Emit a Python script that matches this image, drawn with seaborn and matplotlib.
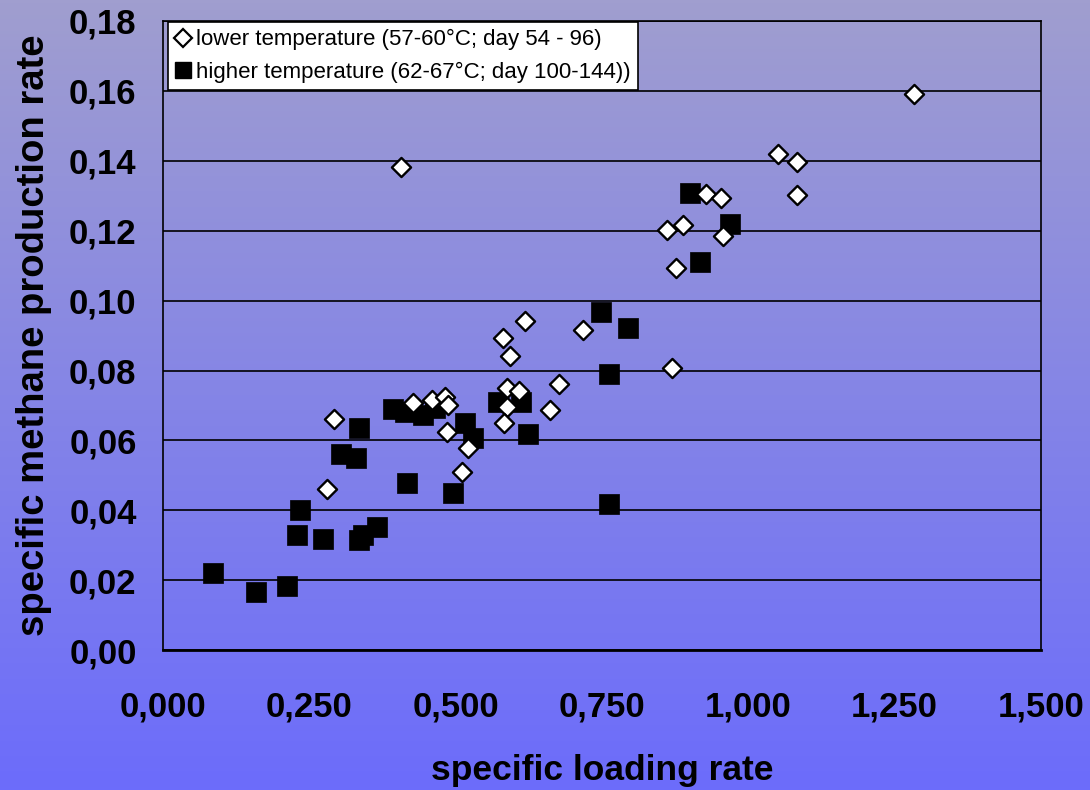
import numpy as np
import pandas as pd
import matplotlib
matplotlib.use("Agg")
import matplotlib.pyplot as plt
from matplotlib.colors import LinearSegmentedColormap
from matplotlib.lines import Line2D
import seaborn as sns

# lower temperature (57-60°C; day 54 - 96)
low_x = [0.280, 0.292, 0.407, 0.427, 0.460, 0.482, 0.487, 0.485, 0.521, 0.511,
         0.581, 0.593, 0.618, 0.718, 0.588, 0.608, 0.588, 0.583, 0.677, 0.661,
         0.870, 0.876, 0.861, 0.888, 0.928, 0.953, 0.957, 1.051, 1.083, 1.083,
         1.283]
low_y = [0.0461, 0.0661, 0.1382, 0.0707, 0.0716, 0.0724, 0.0701, 0.0624, 0.0578, 0.0509,
         0.0893, 0.0841, 0.0942, 0.0916, 0.0750, 0.0741, 0.0695, 0.0650, 0.0761, 0.0687,
         0.0807, 0.1093, 0.1202, 0.1216, 0.1305, 0.1294, 0.1185, 0.1420, 0.1397, 0.1302,
         0.1591]

# higher temperature (62-67°C; day 100-144))
high_x = [0.085, 0.159, 0.212, 0.234, 0.229, 0.273, 0.335, 0.342, 0.366, 0.304,
          0.330, 0.335, 0.393, 0.413, 0.444, 0.465, 0.417, 0.495, 0.516, 0.530,
          0.572, 0.612, 0.624, 0.748, 0.794, 0.762, 0.762, 0.900, 0.917, 0.969]
high_y = [0.0220, 0.0166, 0.0183, 0.0401, 0.0329, 0.0318, 0.0315, 0.0329, 0.0352, 0.0561,
          0.0550, 0.0635, 0.0690, 0.0681, 0.0673, 0.0693, 0.0478, 0.0449, 0.0650, 0.0607,
          0.0710, 0.0710, 0.0618, 0.0967, 0.0922, 0.0790, 0.0418, 0.1308, 0.1110, 0.1219]

low_label = "lower temperature (57-60°C; day 54 - 96)"
high_label = "higher temperature (62-67°C; day 100-144))"

xticks = [0.0, 0.25, 0.5, 0.75, 1.0, 1.25, 1.5]
xtick_labels = ["0,000", "0,250", "0,500", "0,750", "1,000", "1,250", "1,500"]
yticks = [0.0, 0.02, 0.04, 0.06, 0.08, 0.10, 0.12, 0.14, 0.16, 0.18]
ytick_labels = ["0,00", "0,02", "0,04", "0,06", "0,08", "0,10", "0,12", "0,14", "0,16", "0,18"]

df_low = pd.DataFrame({"x": low_x, "y": low_y})
df_high = pd.DataFrame({"x": high_x, "y": high_y})

sns.set_theme(style="white")
plt.rcParams["font.family"] = ["Liberation Sans", "DejaVu Sans"]
plt.rcParams["text.color"] = "black"
plt.rcParams["axes.labelcolor"] = "black"
plt.rcParams["xtick.color"] = "black"
plt.rcParams["ytick.color"] = "black"

fig = plt.figure(figsize=(10.9, 7.9), dpi=100)

# gradient background
bg = fig.add_axes([0, 0, 1, 1], zorder=0)
cmap = LinearSegmentedColormap.from_list("bg", ["#a09ecf", "#8585e6", "#6c6cfb"])
bg.imshow(np.linspace(0, 1, 256).reshape(-1, 1), aspect="auto", cmap=cmap,
          extent=[0, 1, 0, 1])
bg.set_axis_off()

ax = fig.add_axes([0.1495, 0.177, 0.8055, 0.7965], zorder=1)
ax.set_facecolor("none")

sns.scatterplot(data=df_high, x="x", y="y", marker="s", s=190, color="black",
                edgecolor="black", linewidth=0.5, ax=ax, zorder=3)
sns.scatterplot(data=df_low, x="x", y="y", marker="D", s=95, color="white",
                edgecolor="black", linewidth=1.7, ax=ax, zorder=4)

ax.set_xlim(0, 1.5)
ax.set_ylim(0, 0.18)
ax.set_xticks(xticks)
ax.set_xticklabels(xtick_labels)
ax.set_yticks(yticks)
ax.set_yticklabels(ytick_labels)

ax.grid(axis="y", color="black", linewidth=1.2)
ax.grid(axis="x", visible=False)
ax.set_axisbelow(True)
for sp in ax.spines.values():
    sp.set_color("black")
    sp.set_linewidth(1.2)
ax.spines["bottom"].set_linewidth(2)

ax.tick_params(axis="x", direction="out", length=9, width=1,
               pad=20, labelsize=25)
ax.tick_params(axis="y", direction="out", length=8, width=1,
               pad=11, labelsize=25)
for lab in ax.get_xticklabels() + ax.get_yticklabels():
    lab.set_fontweight("bold")

ax.set_xlabel("specific loading rate", fontsize=25.5, fontweight="bold", labelpad=22)
ax.set_ylabel("specific methane production rate", fontsize=27.5, fontweight="bold",
              labelpad=12)

handles = [
    Line2D([], [], linestyle="none", marker="D", markersize=9, markerfacecolor="white",
           markeredgecolor="black", markeredgewidth=1.6, label=low_label),
    Line2D([], [], linestyle="none", marker="s", markersize=12, markerfacecolor="black",
           markeredgecolor="black", label=high_label),
]
leg = ax.legend(handles=handles, loc="upper left", bbox_to_anchor=(0.006, 0.999),
                borderaxespad=0, fontsize=16, frameon=True, fancybox=False,
                framealpha=1, edgecolor="black", handlelength=0.6,
                handletextpad=0.3, borderpad=0.35, labelspacing=0.5)
leg.get_frame().set_linewidth(1.2)
leg.set_zorder(10)

fig.savefig("out.png", dpi=100)
